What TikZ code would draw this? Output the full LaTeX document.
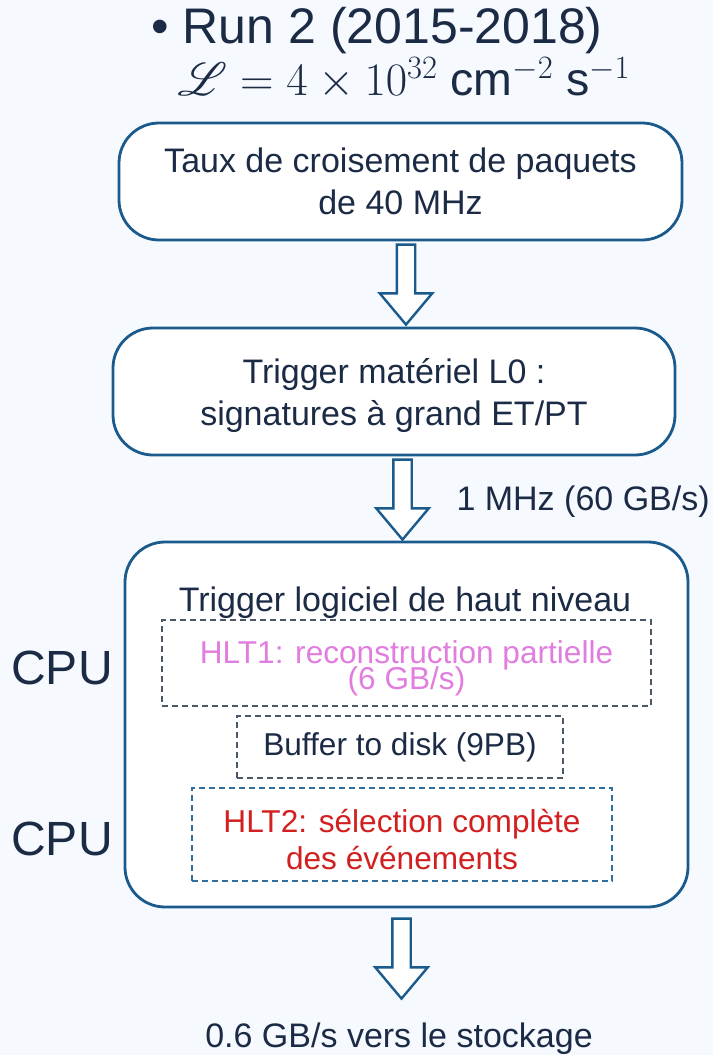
\RequirePackage{fix-cm}
\documentclass[tikz,border=0pt]{standalone}
\usepackage{amsmath,amssymb}
\usepackage{mathrsfs}
\usepackage[no-math]{fontspec}
\setmainfont{Liberation Sans}
\usepackage{xcolor}
\usetikzlibrary{positioning,calc,shapes.arrows}

% scalable script font for the luminosity
\DeclareFontFamily{U}{rsfs}{\skewchar\font127}
\DeclareFontShape{U}{rsfs}{m}{n}{<-6>rsfs5<6-8>rsfs7<8->rsfs10}{}

\definecolor{bgcol}{RGB}{246,250,254}
\definecolor{navy}{RGB}{28,43,69}
\definecolor{boxblue}{RGB}{26,90,140}
\definecolor{dashgray}{RGB}{74,88,104}
\definecolor{dashblue}{RGB}{47,110,158}
\definecolor{hltpink}{RGB}{226,125,224}
\definecolor{hltred}{RGB}{210,31,31}

\tikzset{
	stagebox/.style={draw=boxblue, line width=2.8pt, fill=white, rounded corners=40pt, align=center, text=navy, font=\fontsize{34}{42}\selectfont},
	subbox/.style={draw=dashgray, line width=2pt, dash pattern=on 6pt off 4pt, align=center, font=\fontsize{31.6}{37}\selectfont},
	downarrow/.style={single arrow, draw=boxblue, line width=2.4pt, fill=white, rotate=-90, inner sep=8pt, single arrow head extend=17pt, single arrow tip angle=80, minimum height=80pt, anchor=tail},
	plain/.style={text=navy, font=\fontsize{34}{42}\selectfont}
}

\begin{document}
\begin{tikzpicture}[x=1pt, y=-1pt]
			\path[use as bounding box, fill=bgcol] (0,0) rectangle (713,1055);
			\node[anchor=base west, text=navy, font=\fontsize{50}{55}\selectfont] (run) at (148,43) {\textbullet\ Run 2 (2015-2018)};
			\node[anchor=base west, text=navy, font=\fontsize{46.5}{50}\selectfont] (lumi) at (174,95) {$\mathscr{L} = 4\times 10^{32}$ cm$^{-2}$ s$^{-1}$};
			\node[stagebox, minimum width=563pt, minimum height=117pt] (rate) at (400.5,181.5) {Taux de croisement de paquets\\de 40 MHz};
			\node[stagebox, minimum width=562pt, minimum height=127pt] (lzero) at (394,391.5) {\rule{0pt}{33pt}Trigger matériel L0 :\\signatures à grand ET/PT};
			\node[stagebox, minimum width=563pt, minimum height=365pt] (hlt) at (406.5,724.5) {};
			\node[plain, anchor=base] (hlttitle) at (405,611) {Trigger logiciel de haut niveau};
			\node[subbox, text=hltpink, minimum width=489pt, minimum height=86pt] (hltone) at (406.5,663) {\rule{0pt}{33pt}HLT1: reconstruction partielle\\[-11pt](6 GB/s)};
			\node[subbox, text=navy, minimum width=326pt, minimum height=62pt] (buffer) at (400,747) {Buffer to disk (9PB)};
			\node[subbox, draw=dashblue, text=hltred, minimum width=420pt, minimum height=93pt] (hlttwo) at (402,834.5) {\rule{0pt}{33.5pt}HLT2: sélection complète\\des événements};
			\node[text=navy, font=\fontsize{48}{54}\selectfont] (cpuone) at (62,668) {CPU};
			\node[text=navy, font=\fontsize{48}{54}\selectfont] (cputwo) at (62,839) {CPU};
			\node[downarrow] (arrone) at ($(rate.south)+(5.5,2)$) {};
			\node[downarrow] (arrtwo) at ($(lzero.south)+(8.5,2)$) {};
			\node[downarrow] (arrthree) at ($(hlt.south)+(-5,9)$) {};
			\node[plain, anchor=base west] (rateone) at (453,510) {1 MHz (60 GB/s)};
			\node[plain, anchor=base] (store) at (399,1047) {0.6 GB/s vers le stockage};
		\end{tikzpicture}
\end{document}
